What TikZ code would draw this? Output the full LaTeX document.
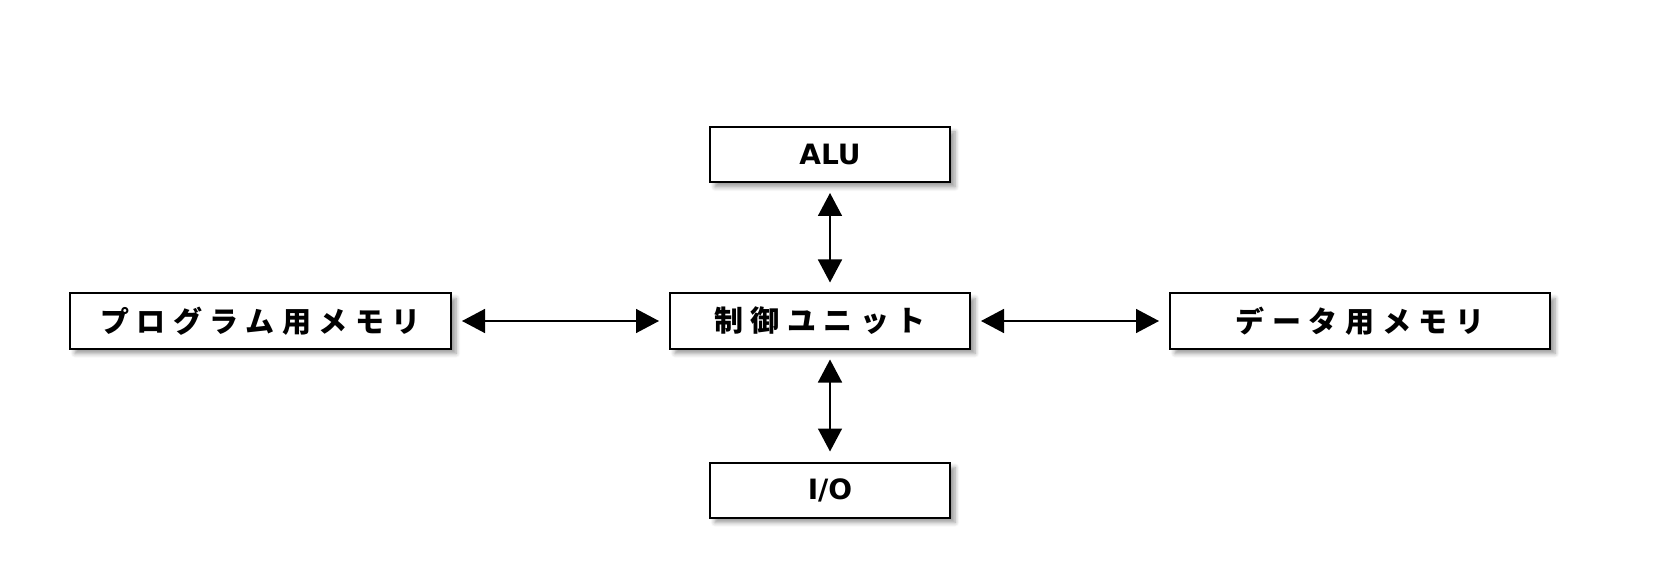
\documentclass[tikz,border=0pt]{standalone}
\usepackage{fontspec}
\usepackage{tikz}
\usetikzlibrary{positioning, arrows.meta, shadows.blur}
\setmainfont{DejaVu Sans}
\newfontfamily\jpfont[LetterSpace=26]{Noto Sans CJK JP}
\tikzset{
    unitbox/.style={draw, line width=1pt, fill=white, inner sep=0pt, minimum height=27.5pt,
        blur shadow={shadow xshift=2.5pt, shadow yshift=-2.5pt, shadow blur steps=6, shadow opacity=40},
        font=\fontsize{14pt}{16pt}\selectfont\bfseries},
    jpbox/.style={unitbox, font=\fontsize{14.5pt}{16pt}\selectfont\jpfont\bfseries},
    biarrow/.style={{Triangle[length=11.5pt, width=12pt]}-{Triangle[length=11.5pt, width=12pt]}, line width=0.75pt, shorten <=5pt, shorten >=5pt}
}
\begin{document}
\begin{tikzpicture}[x=0.5pt, y=-0.5pt]
    \useasboundingbox (0,0) rectangle (1660,588);
    \node[jpbox, minimum width=150pt] (ctrl) at (820,321) {制御ユニット};
    \node[unitbox, minimum width=120pt] (alu) at (830,154.5) {ALU};
    \node[unitbox, minimum width=120pt] (io) at (830,490) {I/O};
    \node[jpbox, minimum width=190.5pt] (pmem) at (260.5,321) {プログラム用メモリ};
    \node[jpbox, minimum width=190pt] (dmem) at (1360,321) {データ用メモリ};
    % connectors
    \draw[biarrow] (alu.south) -- (alu.south |- ctrl.north);
    \draw[biarrow] (io.north |- ctrl.south) -- (io.north);
    \draw[biarrow] (pmem.east) -- (ctrl.west);
    \draw[biarrow] (ctrl.east) -- (dmem.west);
\end{tikzpicture}
\end{document}
